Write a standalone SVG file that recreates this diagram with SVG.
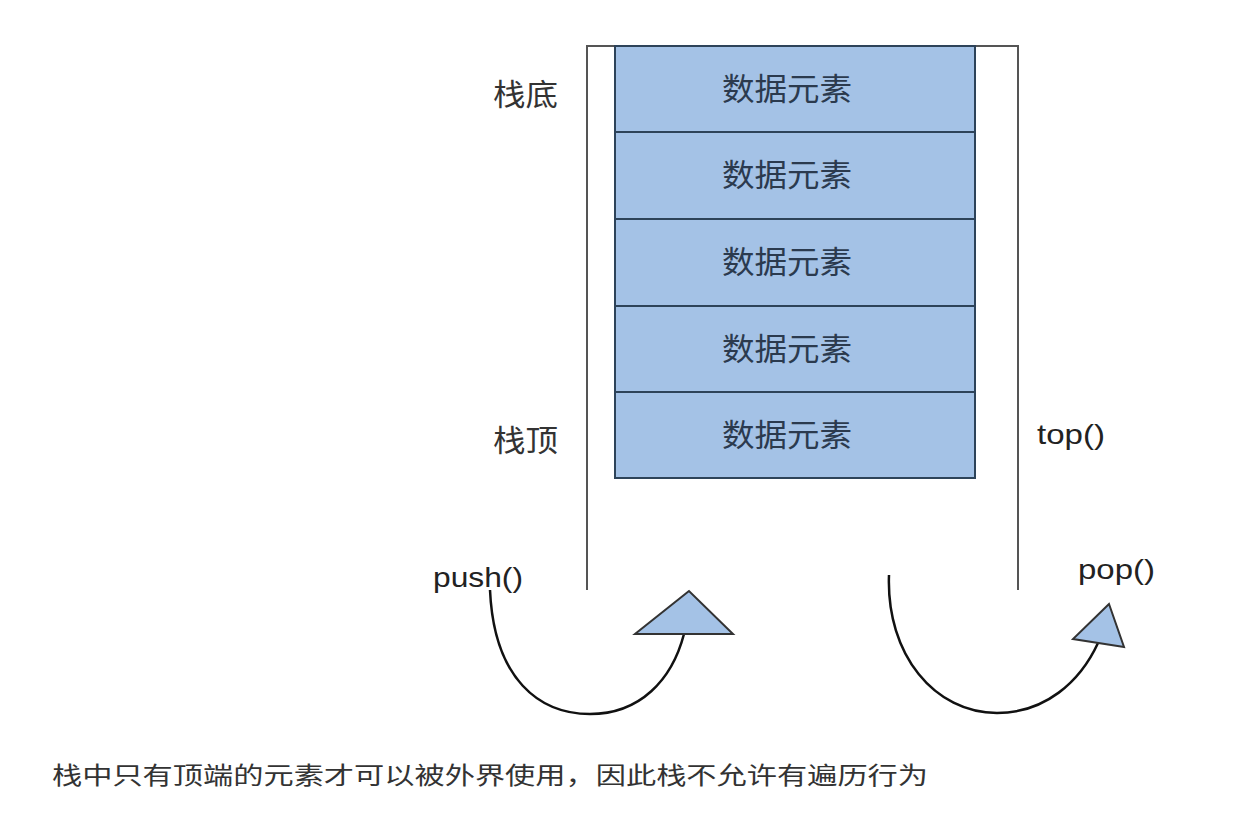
<svg xmlns="http://www.w3.org/2000/svg" width="1252" height="819" viewBox="0 0 1252 819">
<style>
.cell{fill:#a4c2e6;stroke:#2d4359;stroke-width:2}
.ct{font-family:"Liberation Sans","Noto Sans CJK SC",sans-serif;fill:#2b3a4e;font-size:31px}
.cjk{font-family:"Liberation Sans","Noto Sans CJK SC",sans-serif;fill:#333}
.lat{font-family:"Liberation Sans",Arial,sans-serif;fill:#222}
.wall{fill:none;stroke:#555;stroke-width:2}
.curve{fill:none;stroke:#111;stroke-width:2.5}
.head{fill:#a4c2e6;stroke:#333;stroke-width:2;stroke-linejoin:miter}
</style>
<rect width="1252" height="819" fill="#ffffff"/>
<g id="container">
<path class="wall" d="M587,590 V46 H1018 V590"/>
</g>
<g id="cell1"><rect class="cell" x="615" y="46" width="360" height="86"/><text class="ct" x="787" y="100" text-anchor="middle" textLength="130" lengthAdjust="spacingAndGlyphs">数据元素</text></g>
<g id="cell2"><rect class="cell" x="615" y="132" width="360" height="87"/><text class="ct" x="787" y="186" text-anchor="middle" textLength="130" lengthAdjust="spacingAndGlyphs">数据元素</text></g>
<g id="cell3"><rect class="cell" x="615" y="219" width="360" height="87"/><text class="ct" x="787" y="273" text-anchor="middle" textLength="130" lengthAdjust="spacingAndGlyphs">数据元素</text></g>
<g id="cell4"><rect class="cell" x="615" y="306" width="360" height="86"/><text class="ct" x="787" y="360" text-anchor="middle" textLength="130" lengthAdjust="spacingAndGlyphs">数据元素</text></g>
<g id="cell5"><rect class="cell" x="615" y="392" width="360" height="86"/><text class="ct" x="787" y="446" text-anchor="middle" textLength="130" lengthAdjust="spacingAndGlyphs">数据元素</text></g>
<g id="label-bottom"><text class="cjk" x="493" y="105" font-size="30" textLength="65" lengthAdjust="spacingAndGlyphs">栈底</text></g>
<g id="label-top"><text class="cjk" x="493" y="451" font-size="30" textLength="65" lengthAdjust="spacingAndGlyphs">栈顶</text></g>
<g id="label-topfn"><text class="lat" x="1037" y="444" font-size="28" textLength="68" lengthAdjust="spacingAndGlyphs">top()</text></g>
<g id="label-push"><text class="lat" x="433" y="587" font-size="28" textLength="90" lengthAdjust="spacingAndGlyphs">push()</text></g>
<g id="label-pop"><text class="lat" x="1078" y="579" font-size="28" textLength="77" lengthAdjust="spacingAndGlyphs">pop()</text></g>
<g id="connectors">
<path class="curve" d="M490,590 C494,680 540,714 590,714 C640,714 672,680 684,634"/>
<polygon class="head" points="689,591 635,634 733,634"/>
<path class="curve" d="M889,575 C886,655 935,713 997,713 C1045,713 1080,682 1098,643"/>
<polygon class="head" points="1109,604 1073,639 1124,647"/>
</g>
<g id="caption"><text class="cjk" x="52" y="784" font-size="24" textLength="876" lengthAdjust="spacingAndGlyphs">栈中只有顶端的元素才可以被外界使用，因此栈不允许有遍历行为</text></g>
</svg>
